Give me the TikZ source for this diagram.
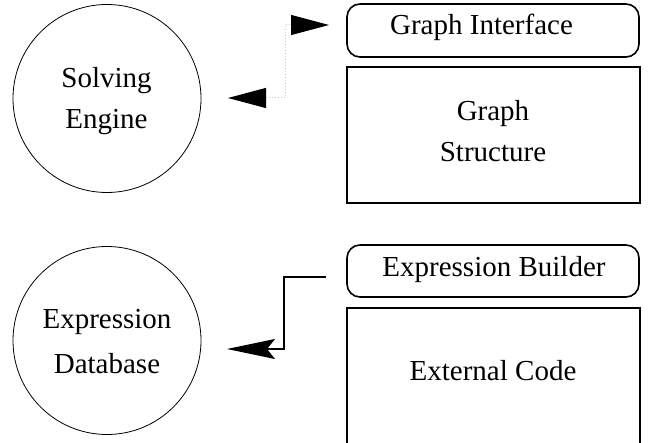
\documentclass[tikz,border=0pt]{standalone}
\usepackage{fontspec}
\setmainfont{Liberation Serif}
\usetikzlibrary{arrows.meta}
\begin{document}
\begin{tikzpicture}[x=1pt,y=-1pt,
  lbl/.style={inner sep=0pt,anchor=base,font=\fontsize{29}{40}\selectfont},
  ring/.style={draw,circle,line width=0.8pt,minimum size=188pt,inner sep=0pt},
  rbox/.style={draw,rounded corners=13pt,line width=1.6pt},
  sbox/.style={draw,line width=1.6pt},
  dotlink/.style={draw=black!22,line width=1pt,dash pattern=on 1pt off 2pt,
     {Triangle[length=38pt,width=20pt,fill=black,color=black]}-{Triangle[length=38pt,width=20pt,fill=black,color=black]}},
  solidlink/.style={line width=1.2pt,-{Stealth[length=48pt,width=20pt,inset=8pt]}}
]
\useasboundingbox (0,0) rectangle (650,443);
% circles
\node[ring] (se) at (107,98.5) {};
\node[ring] (ed) at (107,340.5) {};
\node[lbl] (se1) at (106.5,88) {Solving};
\node[lbl] (se2) at (106.5,128.5) {Engine};
\node[lbl] (ed1) at (107,328.5) {Expression};
\node[lbl] (ed2) at (107,373) {Database};
% boxes
\draw[rbox] (347,4) rectangle (639,57);
\coordinate (gi) at (347,25);
\node[lbl] (gil) at (481.5,35) {Graph Interface};
\draw[sbox] (347,67) rectangle (640,203);
\node[lbl] (gs1) at (493,120.5) {Graph};
\node[lbl] (gs2) at (493,162) {Structure};
\draw[rbox] (347,245) rectangle (639,297);
\node[lbl] (ebl) at (494,277) {Expression Builder};
\draw[sbox] (347,308) rectangle (640,443.5);
\node[lbl] (ecl) at (493,380) {External Code};
% connectors
\coordinate (t1) at (228,98);
\coordinate (t2) at (329,25);
\draw[dotlink] (t1) -- (285,98) -- (285,25) -- (t2);
\coordinate (b1) at (326,277);
\coordinate (b2) at (227,349);
\draw[solidlink] (b1) -- (284,277) -- (284,349) -- (b2);
\end{tikzpicture}
\end{document}
